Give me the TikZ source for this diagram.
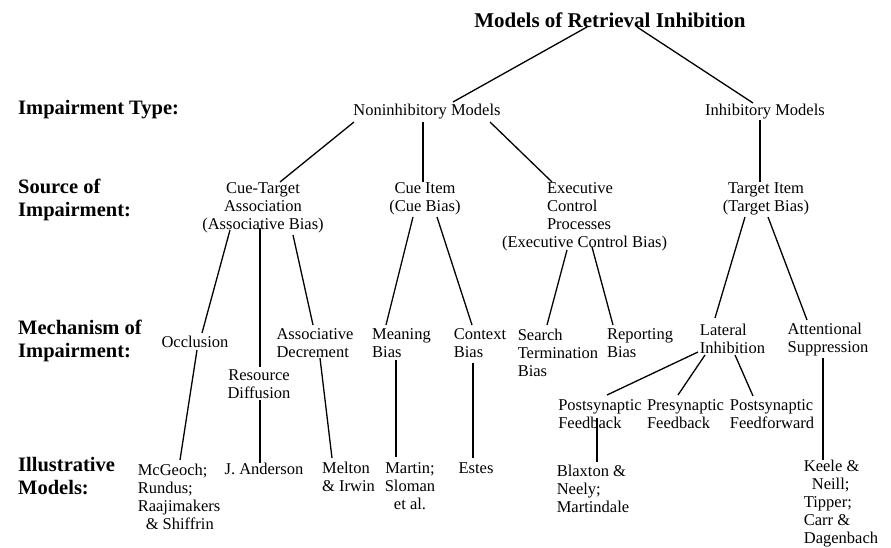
\documentclass[tikz,border=0pt]{standalone}
\usepackage{fontspec}
\setmainfont{Liberation Serif}
\usetikzlibrary{calc}
\begin{document}
\begin{tikzpicture}[x=1pt,y=-1pt,
  ttl/.style={inner sep=0pt, font=\fontsize{21}{24}\selectfont\bfseries},
  lvl/.style={anchor=west, align=left, inner sep=0pt, font=\fontsize{20.5}{23}\selectfont\bfseries},
  txt/.style={inner sep=0pt, align=center, font=\fontsize{16.5}{18}\selectfont},
  txl/.style={txt, align=left},
  conn/.style={line width=1.3pt}]
\useasboundingbox (0,0) rectangle (891,548);
% titles and level labels
\node[ttl] (root) at (610,20) {Models of Retrieval Inhibition};
\node[lvl] (l1) at (18,110) {Impairment Type:};
\node[lvl] (l2) at (18,200) {Source of\\Impairment:};
\node[lvl] (l3) at (18,341) {Mechanism of\\Impairment:};
\node[lvl] (l4) at (18,476) {Illustrative\\Models:};
% impairment type
\node[txt] (nonin) at (427,112) {Noninhibitory Models};
\node[txt] (inhib) at (765,112) {Inhibitory Models};
% source
\node[txt] (ct) at (263,208) {Cue-Target\\Association\\(Associative Bias)};
\node[txt] (ci) at (425,199) {Cue Item\\(Cue Bias)};
\node[txt] (ex) at (584.5,217) {\makebox[75pt][l]{Executive}\\\makebox[75pt][l]{Control}\\\makebox[75pt][l]{Processes}\\(Executive Control Bias)};
\node[txt] (ti) at (766,199) {Target Item\\(Target Bias)};
% mechanism
\node[txt] (occ) at (195,342) {Occlusion};
\node[txt] (rd) at (259,384) {Resource\\Diffusion};
\node[txl] (ad) at (315,343) {Associative\\Decrement};
\node[txl] (mb) at (401.5,343) {Meaning\\Bias};
\node[txl] (cb) at (480,343) {Context\\Bias};
\node[txl] (stb) at (558,353) {Search\\Termination\\Bias};
\node[txl] (rb) at (640,343) {Reporting\\Bias};
\node[txl] (li) at (732.5,338.5) {Lateral\\Inhibition};
\node[txl] (as) at (828,339.5) {Attentional\\Suppression};
\node[txl] (pfb) at (600,414) {Postsynaptic\\Feedback};
\node[txl] (prfb) at (685.5,414) {Presynaptic\\Feedback};
\node[txl] (pff) at (772,414) {Postsynaptic\\Feedforward};
% illustrative models
\node[txl] (mcg) at (179,497) {McGeoch;\\Rundus;\\Raajimakers\\\hspace*{8pt}\& Shiffrin};
\node[txt] (ja) at (264,469) {J. Anderson};
\node[txl] (mi) at (348.5,477) {Melton\\\& Irwin};
\node[txt] (ms) at (410,486.5) {Martin;\\Sloman\\et al.};
\node[txt] (es) at (476,468) {Estes};
\node[txl] (bn) at (593,488.5) {Blaxton \&\\Neely;\\Martindale};
\node[txl] (kn) at (841,504) {Keele \&\\\hspace*{8pt}Neill;\\Tipper;\\Carr \&\\Dagenbach};
% connectors
\draw[conn] ($(root)+(-23,7)$) -- ($(nonin)+(26,-10)$);
\draw[conn] ($(root)+(27,7)$) -- ($(inhib)+(-12,-9)$);
\draw[conn] ($(nonin)+(-73,10)$) -- ($(ct)+(17,-26)$);
\draw[conn] ($(nonin)+(-4,10)$) -- ($(ci)+(-2,-17)$);
\draw[conn] ($(nonin)+(63,10)$) -- ($(ex)+(-32.5,-35)$);
\draw[conn] ($(inhib)+(-5,8)$) -- ($(ti)+(-6,-17)$);
\draw[conn] ($(ct)+(-33,22)$) -- ($(occ)+(7,-9)$);
\draw[conn] ($(ct)+(-3,20)$) -- ($(rd)+(1,-17)$);
\draw[conn] ($(ct)+(30,27)$) -- ($(ad)+(-2,-18)$);
\draw[conn] ($(occ)+(2,8)$) -- ($(mcg)+(1,-37)$);
\draw[conn] ($(rd)+(1,16)$) -- ($(ja)+(-4,-6)$);
\draw[conn] ($(ad)+(5,15)$) -- ($(mi)+(-16.5,-19)$);
\draw[conn] ($(ci)+(-12,18)$) -- ($(mb)+(-15.5,-18)$);
\draw[conn] ($(ci)+(12,18)$) -- ($(cb)+(-8,-18)$);
\draw[conn] ($(mb)+(-5.5,17)$) -- ($(ms)+(-14,-29.5)$);
\draw[conn] ($(cb)+(-7,20)$) -- ($(es)+(-3,-10)$);
\draw[conn] ($(ex)+(-17.5,33)$) -- ($(stb)+(-11,-28)$);
\draw[conn] ($(ex)+(7.5,30)$) -- ($(rb)+(-27,-18)$);
\draw[conn] ($(ti)+(-21,18)$) -- ($(li)+(-17.5,-20.5)$);
\draw[conn] ($(ti)+(2,18)$) -- ($(as)+(-21,-19.5)$);
\draw[conn] ($(li)+(-34.5,13.5)$) -- ($(pfb)+(7,-19)$);
\draw[conn] ($(li)+(-27.5,16.5)$) -- ($(prfb)+(-7.5,-19)$);
\draw[conn] ($(li)+(2.5,16.5)$) -- ($(pff)+(-19,-18)$);
\draw[conn] ($(pfb)+(-3,4)$) -- ($(bn)+(4,-26.5)$);
\draw[conn] ($(as)+(-5,18.5)$) -- ($(kn)+(-18,-44)$);
\end{tikzpicture}
\end{document}
